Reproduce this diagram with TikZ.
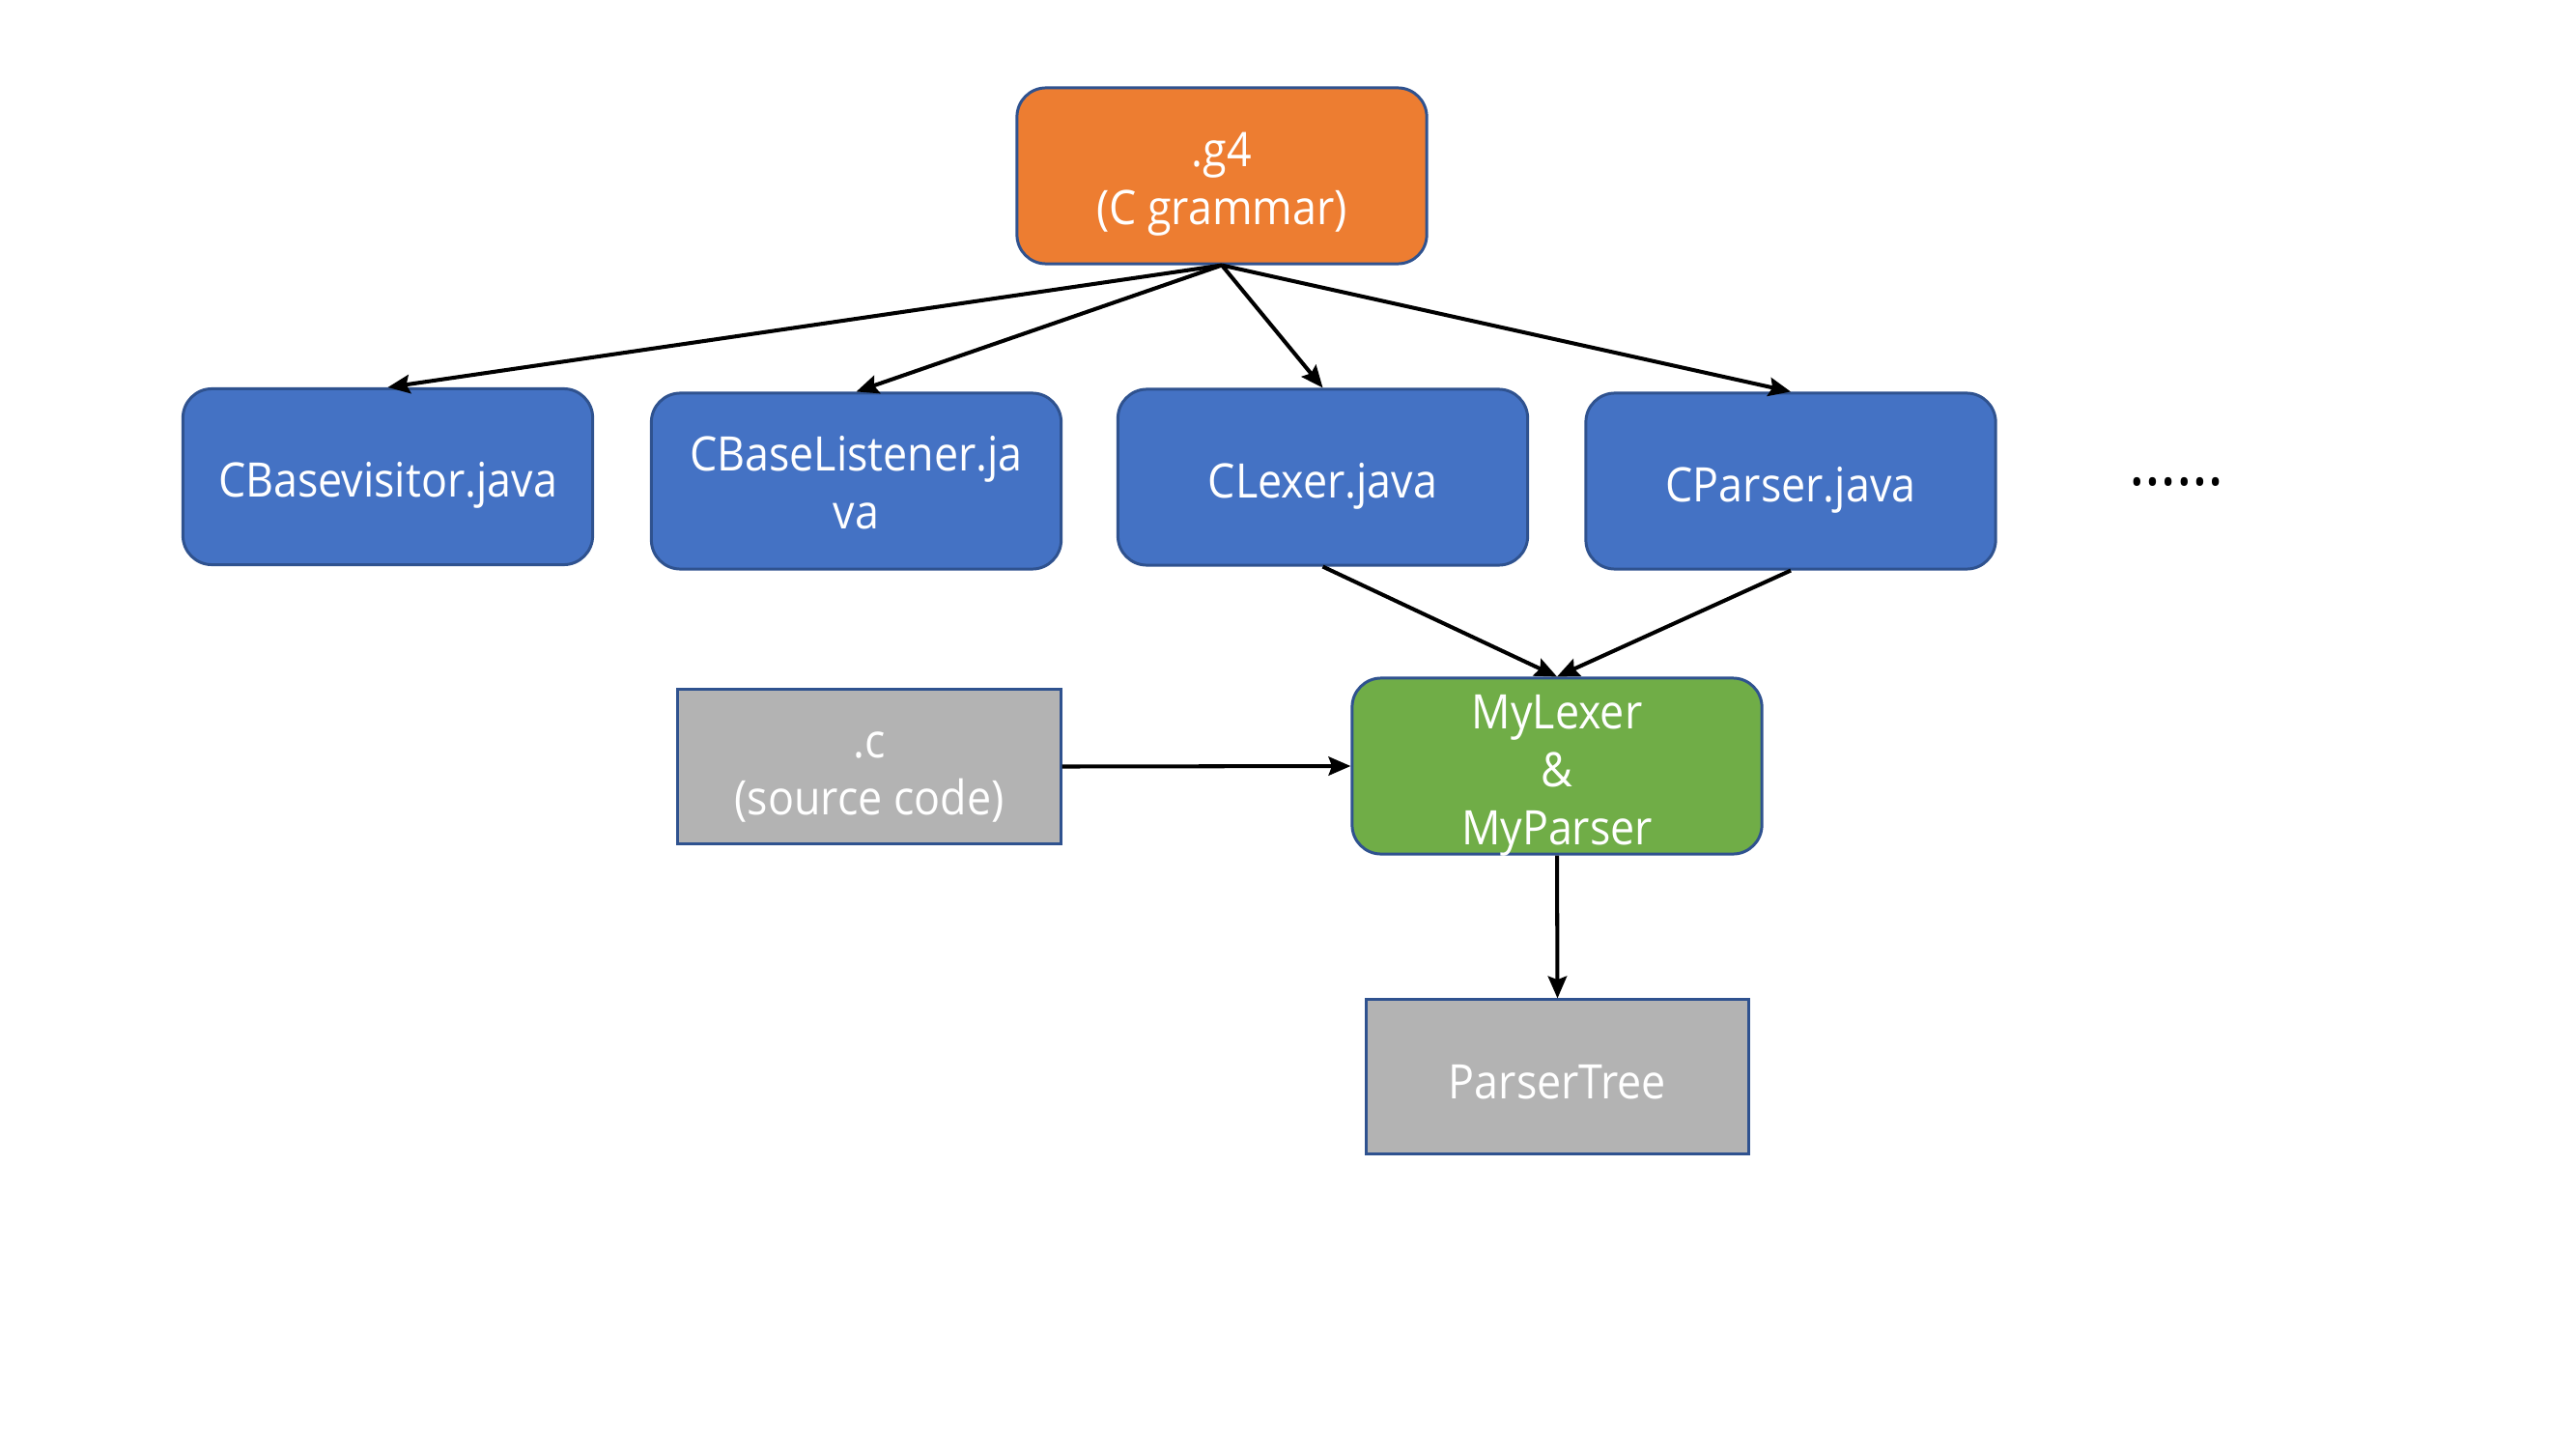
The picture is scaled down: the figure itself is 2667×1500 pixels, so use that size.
\documentclass[tikz,border=0pt]{standalone}
\usepackage{fontspec}
\setmainfont{Open Sans}[FakeStretch=0.91]
\usetikzlibrary{arrows.meta}
\definecolor{gorange}{HTML}{ED7D31}
\definecolor{gblue}{HTML}{4472C4}
\definecolor{ggreen}{HTML}{70AD47}
\definecolor{ggray}{HTML}{B3B3B3}
\definecolor{edge}{HTML}{2F528F}
\begin{document}
\begin{tikzpicture}[x=0.01cm,y=-0.01cm,
  box/.style={draw=edge,line width=0.85pt,inner sep=0pt},
  boxtext/.style={text=white,align=center,inner sep=0pt,
    font=\fontsize{14}{17}\selectfont},
  roundbox/.style={box,rounded corners=0.3cm,minimum width=4.24cm,minimum height=1.82cm},
  plainbox/.style={box,minimum width=3.96cm,minimum height=1.59cm,fill=ggray},
  link/.style={line width=1.15pt,-{Stealth[length=6.5pt,width=5.5pt,inset=1pt]}}]
  \useasboundingbox (0,0) rectangle (2667,1500);
  % grammar source
  \node[roundbox,fill=gorange] (g4) at (1265,182) {};
  % generated files
  \node[roundbox,fill=gblue] (cbv) at (401.5,493.5) {};
  \node[roundbox,fill=gblue] (cbl) at (886.5,498) {};
  \node[roundbox,fill=gblue] (clex) at (1369.5,494) {};
  \node[roundbox,fill=gblue] (cpar) at (1854,498) {};
  \node[anchor=base,inner sep=0pt,font=\fontsize{19.5}{20}\selectfont] (more) at (2253,502) {……};
  % user code
  \node[plainbox] (src) at (900,793.5) {};
  \node[roundbox,fill=ggreen] (my) at (1612,793) {};
  \node[plainbox] (tree) at (1612.5,1114.5) {};
  % box captions, set slightly below each box centre
  \node[boxtext] (g4t) at ([yshift=-0.09cm]g4.center) {.g4\\(C grammar)};
  \node[boxtext] (cbvt) at ([yshift=-0.09cm]cbv.center) {CBasevisitor.java};
  \node[boxtext] (cblt) at ([yshift=-0.02cm]cbl.center) {CBaseListener.ja\\va};
  \node[boxtext] (clext) at ([yshift=-0.09cm]clex.center) {CLexer.java};
  \node[boxtext] (cpart) at ([yshift=-0.09cm]cpar.center) {CParser.java};
  \node[boxtext] (srct) at ([yshift=-0.11cm]src.center) {.c\\(source code)};
  \node[boxtext] (myt) at ([yshift=-0.10cm]my.center) {MyLexer\\\&\\MyParser};
  \node[boxtext] (treet) at ([yshift=-0.06cm]tree.center) {ParserTree};
  % connectors
  \draw[link] (g4.south) -- (cbv.north);
  \draw[link] (g4.south) -- (cbl.north);
  \draw[link] (g4.south) -- (clex.north);
  \draw[link] (g4.south) -- (cpar.north);
  \draw[link] (clex.south) -- (my.north);
  \draw[link] (cpar.south) -- (my.north);
  \draw[link] (src.east) -- (my.west);
  \draw[link] (my.south) -- (tree.north);
\end{tikzpicture}
\end{document}
